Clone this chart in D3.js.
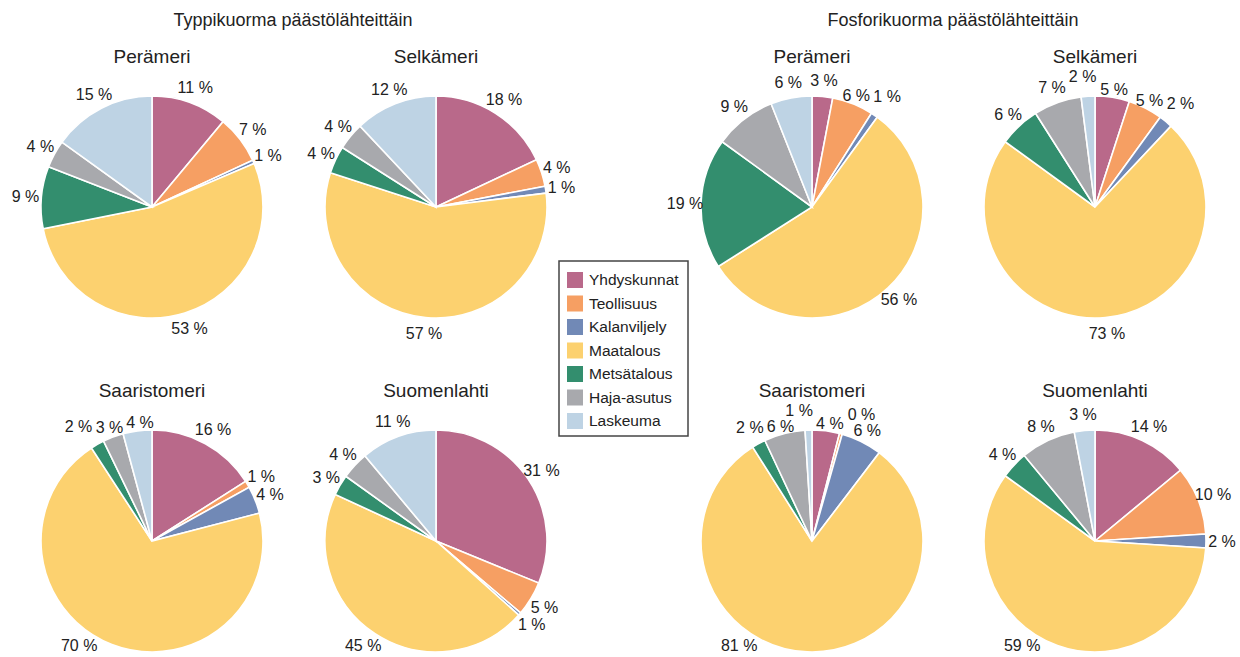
<!DOCTYPE html>
<head>
<meta charset="utf-8">
<style>
  body { margin: 0; background: #fff; }
  text { font-family: "Liberation Sans", Arial, sans-serif; fill: #222; }
</style>
<script src="https://d3js.org/d3.v7.min.js"></script>
</head>
<body>
<script>
// sources (legend order = slice order, clockwise from 12 o'clock)
var sources = ["Yhdyskunnat", "Teollisuus", "Kalanviljely", "Maatalous", "Metsätalous", "Haja-asutus", "Laskeuma"];
var colors = ["#b9698a", "#f69f63", "#7189b6", "#fcd16f", "#338e6e", "#a8a9ad", "#bed3e4"];

var basins = ["Perämeri", "Selkämeri", "Saaristomeri", "Suomenlahti"];

// percent values (slice sizes), labels are the rounded ones
var typpi = [
  [11, 7, 0.5, 53, 9, 4, 15],
  [18, 4, 1, 57, 4, 4, 12],
  [16, 1, 4, 70, 2, 3, 4.2],
  [31, 5, 0.4, 45, 3, 4, 11]
];
var typpiLabels = [
  [11, 7, 1, 53, 9, 4, 15],
  [18, 4, 1, 57, 4, 4, 12],
  [16, 1, 4, 70, 2, 3, 4],
  [31, 5, 1, 45, 3, 4, 11]
];
var fosfori = [
  [3, 6, 1, 56, 19, 9, 6],
  [5, 5, 2, 73, 6, 7, 2],
  [4, 0.4, 6, 81, 2, 6, 1],
  [14, 10, 2, 59, 4, 8, 3]
];
var fosforiLabels = [
  [3, 6, 1, 56, 19, 9, 6],
  [5, 5, 2, 73, 6, 7, 2],
  [4, 0, 6, 81, 2, 6, 1],
  [14, 10, 2, 59, 4, 8, 3]
];

window.addEventListener('load', function() {
  var width = 1240, height = 657;
  var r = 111, lr = 127;

  var svg = d3.select("body").append("svg").attr("width", width).attr("height", height);
  var color = d3.scaleOrdinal().domain(sources).range(colors);
  var pie = d3.pie().sort(null).value(function(d) { return d.v; });
  var arc = d3.arc().innerRadius(0).outerRadius(r);

  var groups = [
    { title: "Typpikuorma päästölähteittäin", cx: 293, cols: [152, 436], vals: typpi, labs: typpiLabels },
    { title: "Fosforikuorma päästölähteittäin", cx: 953, cols: [812, 1095], vals: fosfori, labs: fosforiLabels }
  ];
  var rows = [207, 541];

  groups.forEach(function(g) {
    svg.append("text")
      .attr("x", g.cx).attr("y", 26)
      .attr("text-anchor", "middle")
      .attr("font-size", "18px")
      .text(g.title);

    basins.forEach(function(b, i) {
      var x = g.cols[i % 2], y = rows[Math.floor(i / 2)];
      var data = sources.map(function(s, j) { return { k: s, v: g.vals[i][j], l: g.labs[i][j] }; });
      var p = svg.append("g").attr("transform", "translate(" + x + "," + y + ")");

      p.append("text")
        .attr("y", -144)
        .attr("text-anchor", "middle")
        .attr("font-size", "19px")
        .text(b);

      var arcs = pie(data);
      p.selectAll("path")
        .data(arcs)
        .enter()
        .append("path")
        .attr("d", arc)
        .attr("fill", function(d) { return color(d.data.k); })
        .attr("stroke", "#fff")
        .attr("stroke-width", 1.6);

      // label positions (polar): mid angle, kept below the title and inside the page
      var maxY = height - 12 - y, minY = -131;
      function place(o) { o.x = o.rad * Math.sin(o.a); o.y = -o.rad * Math.cos(o.a); }
      function setRad(o, nr) {
        var c = Math.cos(o.a);
        nr = Math.min(lr + 9, Math.max(r + 8, nr));
        if (c > 0) nr = Math.min(nr, -minY / c);
        if (c < 0) nr = Math.min(nr, maxY / -c);
        o.rad = nr; place(o);
      }
      function rotateAway(o, other, dist) {
        var dd = other.a - o.a;
        while (dd > Math.PI) dd -= 2 * Math.PI;
        while (dd < -Math.PI) dd += 2 * Math.PI;
        o.a -= (dd >= 0 ? 1 : -1) * dist / o.rad;
        setRad(o, o.rad);
      }
      var lbls = arcs.map(function(d) {
        var a = (d.startAngle + d.endAngle) / 2;
        if (-lr * Math.cos(a) > maxY) {
          var t = Math.acos(maxY / lr);
          a = a > Math.PI ? Math.PI + t : Math.PI - t;
        }
        var o = { d: d, v: d.data.v, a: a, rad: lr, w: 0, h: 15 };
        setRad(o, lr);
        return o;
      });

      var texts = p.selectAll(".lbl")
        .data(lbls)
        .enter()
        .append("text")
        .attr("class", "lbl")
        .attr("text-anchor", "middle")
        .attr("dy", "0.35em")
        .attr("font-size", "16px")
        .text(function(o) { return o.d.data.l + " %"; })
        .each(function(o) { o.w = this.getComputedTextLength(); });

      // overlapping labels: smaller one outward, bigger inward; when blocked, step round the circle
      for (var it = 0; it < 80; it++) {
        for (var m = 0; m < lbls.length; m++) {
          for (var n = m + 1; n < lbls.length; n++) {
            var A = lbls[m], B = lbls[n];
            var ox = (A.w + B.w) / 2 + 3 - Math.abs(A.x - B.x);
            var oy = (A.h + B.h) / 2 + 1 - Math.abs(A.y - B.y);
            if (ox > 0 && oy > 0) {
              var amt = Math.min(ox, oy) / 2 + 0.5;
              var small = A.v <= B.v ? A : B, big = small === A ? B : A;
              var s0 = small.rad, b0 = big.rad;
              setRad(small, s0 + amt);
              if (small.rad - s0 < amt * 0.5) rotateAway(small, big, amt - (small.rad - s0));
              setRad(big, b0 - amt);
              if (b0 - big.rad < amt * 0.5) rotateAway(big, small, amt - (b0 - big.rad));
            }
          }
        }
      }
      texts.attr("x", function(o) { return o.x; }).attr("y", function(o) { return o.y; });
    });
  });

  // legend
  var lg = svg.append("g").attr("transform", "translate(559,261)");
  lg.append("rect")
    .attr("width", 129).attr("height", 175)
    .attr("fill", "#fff")
    .attr("stroke", "#444")
    .attr("stroke-width", 1.5);
  var ly = d3.scalePoint().domain(sources).range([19, 160]);
  var items = lg.selectAll(".item")
    .data(sources)
    .enter()
    .append("g")
    .attr("class", "item")
    .attr("transform", function(d) { return "translate(0," + ly(d) + ")"; });
  items.append("rect")
    .attr("x", 8).attr("y", -8)
    .attr("width", 16).attr("height", 16)
    .attr("fill", function(d) { return color(d); });
  items.append("text")
    .attr("x", 30).attr("dy", "0.35em")
    .attr("font-size", "15.5px")
    .text(function(d) { return d; });
});
</script>
</body>
</html>
